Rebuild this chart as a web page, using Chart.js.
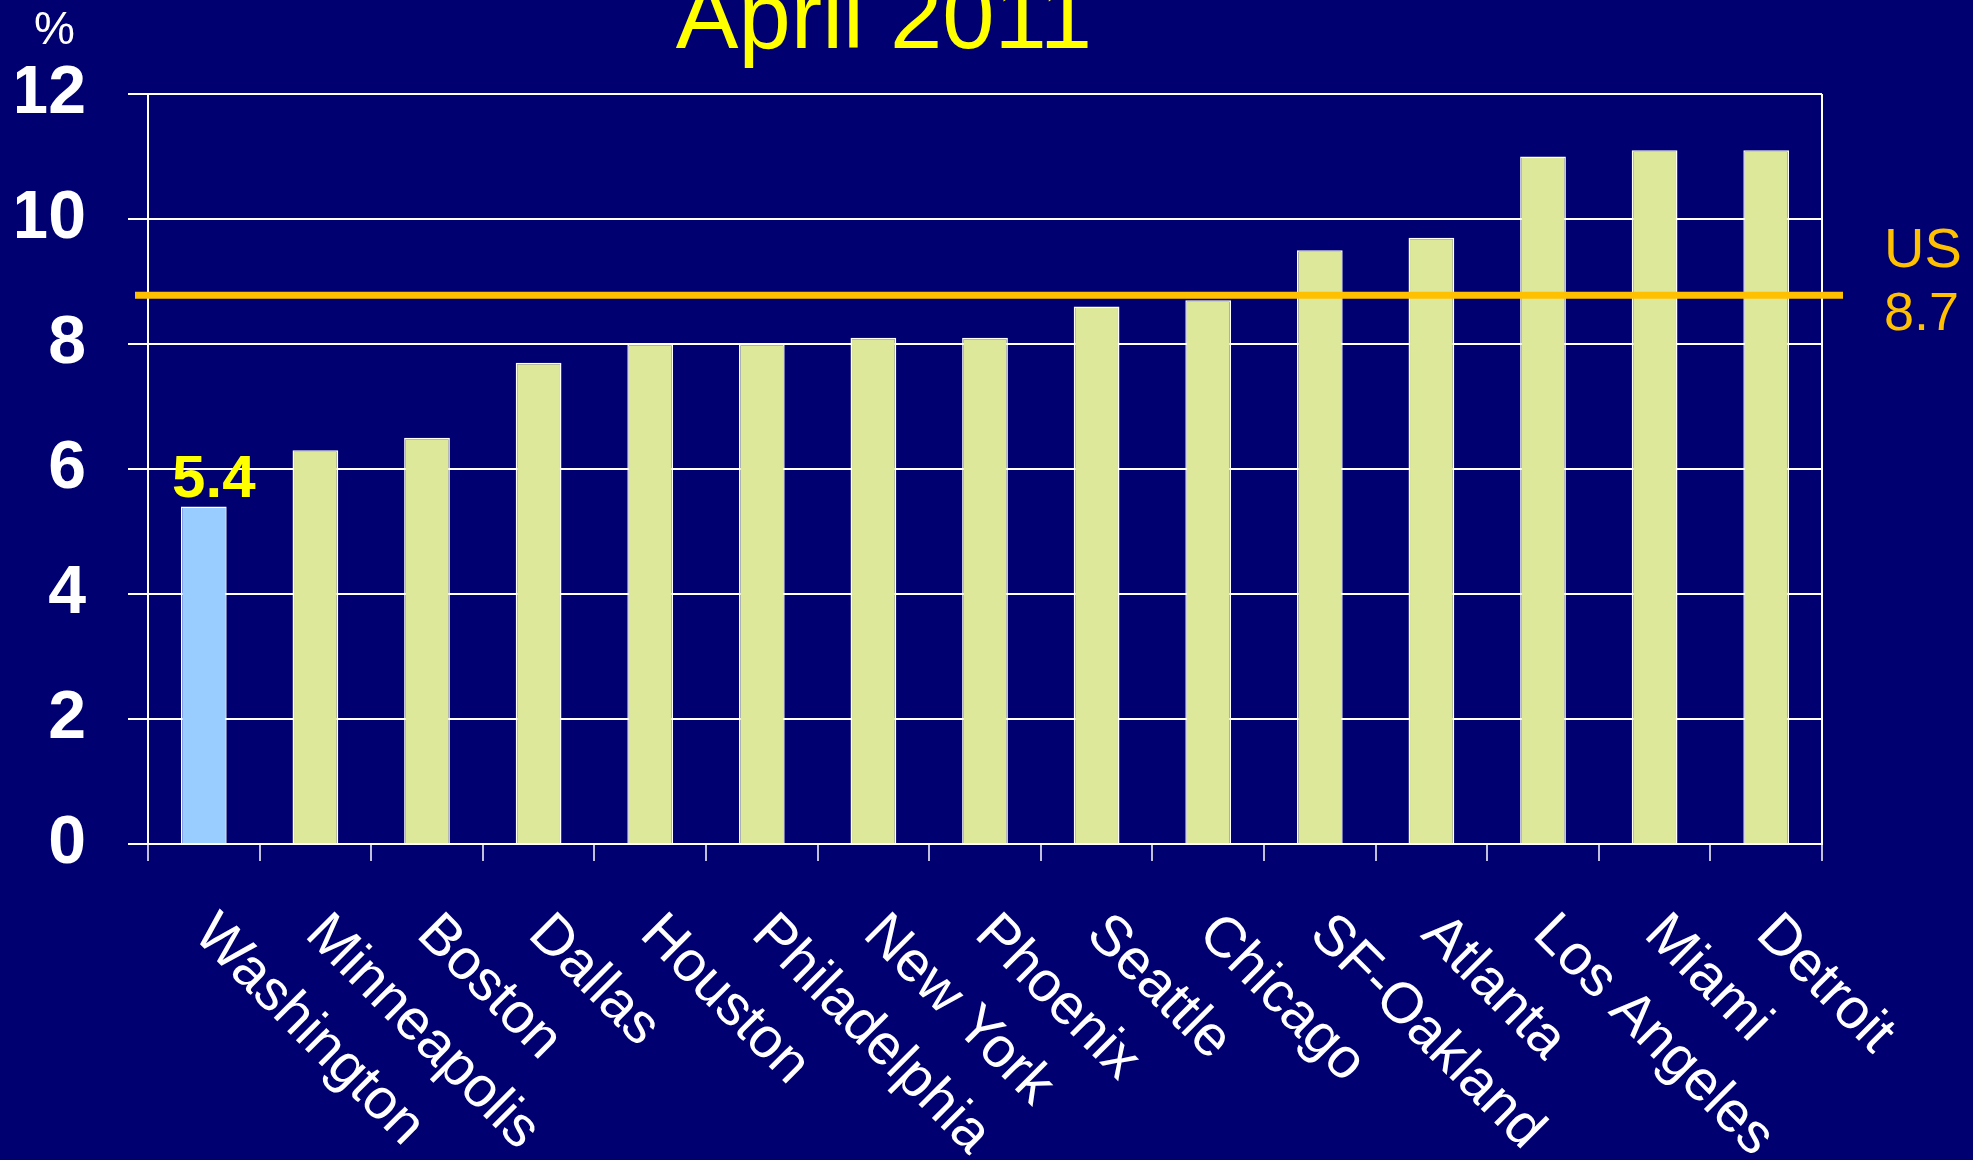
<!DOCTYPE html>
<html>
<head>
<meta charset="utf-8">
<title>April 2011</title>
<script src="https://cdn.jsdelivr.net/npm/chart.js@4.4.1/dist/chart.umd.min.js"></script>
<style>
  html, body { margin: 0; padding: 0; background: #000070; }
  #wrap { width: 1973px; height: 1160px; }
</style>
</head>
<body>
<div id="wrap"><canvas id="rateChart"></canvas></div>
<script>
// Unemployment rate by metro area, April 2011 (%)
const cities = ['Washington', 'Minneapolis', 'Boston', 'Dallas', 'Houston', 'Philadelphia', 'New York',
    'Phoenix', 'Seattle', 'Chicago', 'SF-Oakland', 'Atlanta', 'Los Angeles', 'Miami', 'Detroit'];
const rates = [5.4, 6.3, 6.5, 7.7, 8.0, 8.0, 8.1, 8.1, 8.6, 8.7, 9.5, 9.7, 11.0, 11.1, 11.1];
const yMin = 0;
const yMax = 12;
const yStep = 2;
const usLevel = 8.78;          // where the US reference line is drawn
const usLabel = ['US', '8.7'];
const highlightCity = 'Washington';

const FONT = '"Liberation Sans", Arial, sans-serif';
const BAR = '#DDE89B';
const BAR_HI = '#99CCFF';
const ORANGE = '#FFC000';

const hi = cities.indexOf(highlightCity);
const barColors = cities.map((c, i) => i === hi ? BAR_HI : BAR);

// title, % unit, rotated city names, US line and the 5.4 label
const overlay = {
    id: 'overlay',
    afterDatasetsDraw(chart) {
        const { ctx, chartArea, scales } = chart;
        const yUs = scales.y.getPixelForValue(usLevel);
        ctx.save();
        ctx.strokeStyle = ORANGE;
        ctx.lineWidth = 7;
        ctx.beginPath();
        ctx.moveTo(chartArea.left - 13, yUs);
        ctx.lineTo(chartArea.right + 21, yUs);
        ctx.stroke();

        ctx.fillStyle = ORANGE;
        ctx.textAlign = 'left';
        ctx.textBaseline = 'alphabetic';
        ctx.font = '56px ' + FONT;
        ctx.fillText(usLabel[0], chartArea.right + 62, yUs - 28);
        ctx.font = '54px ' + FONT;
        ctx.fillText(usLabel[1], chartArea.right + 62, yUs + 35);

        const bar = chart.getDatasetMeta(0).data[hi];
        ctx.fillStyle = '#FFFF00';
        ctx.font = 'bold 60px ' + FONT;
        ctx.textAlign = 'center';
        ctx.fillText(rates[hi].toFixed(1), bar.x + 10, bar.y - 10);
        ctx.restore();
    },
    afterDraw(chart) {
        const { ctx, chartArea, scales } = chart;
        ctx.save();
        ctx.fillStyle = '#FFFF00';
        ctx.font = '94px ' + FONT;
        ctx.textAlign = 'center';
        ctx.textBaseline = 'alphabetic';
        ctx.fillText('April 2011', 884, 48);

        ctx.fillStyle = '#FFFFFF';
        ctx.font = '46px ' + FONT;
        ctx.textAlign = 'left';
        ctx.fillText('%', 34, 44);

        ctx.font = '57px ' + FONT;
        cities.forEach((name, i) => {
            const px = scales.x.getPixelForValue(i);
            ctx.save();
            ctx.translate(px - 12, chartArea.bottom + 92);
            ctx.rotate(Math.PI / 4);
            ctx.fillText(name, 0, 0);
            ctx.restore();
        });
        ctx.restore();
    }
};

const ctxRates = document.getElementById('rateChart').getContext('2d');
const rateChart = new Chart(ctxRates, {
    type: 'bar',
    data: {
        labels: cities,
        datasets: [{
            label: 'Unemployment rate',
            data: rates,
            backgroundColor: barColors,
            borderColor: '#FFFFFF',
            borderWidth: 1.5,
            barPercentage: 0.41,
            categoryPercentage: 1.0
        }]
    },
    options: {
        responsive: true,
        maintainAspectRatio: false,
        animation: false,
        layout: {
            padding: { left: 17, right: 151, top: 94, bottom: 299 }
        },
        scales: {
            x: {
                offset: true,
                grid: {
                    offset: true,
                    drawOnChartArea: true,
                    color: c => (c.index === 0 || c.index === undefined) ? '#FFFFFF' : 'transparent',
                    lineWidth: 2,
                    tickLength: 17,
                    tickColor: '#FFFFFF',
                    tickWidth: 1.5
                },
                border: { color: '#FFFFFF', width: 2 },
                ticks: { display: false }
            },
            y: {
                min: yMin,
                max: yMax,
                afterFit: scale => { scale.width = 131; },
                grid: {
                    color: '#FFFFFF',
                    lineWidth: 2,
                    tickLength: 20,
                    tickColor: '#FFFFFF'
                },
                border: { color: '#FFFFFF', width: 2 },
                ticks: {
                    stepSize: yStep,
                    color: '#FFFFFF',
                    padding: 42,
                    font: { family: FONT, size: 68, weight: 'bold' }
                }
            }
        },
        plugins: {
            legend: { display: false },
            tooltip: { enabled: false }
        }
    },
    plugins: [overlay]
});
</script>
</body>
</html>
